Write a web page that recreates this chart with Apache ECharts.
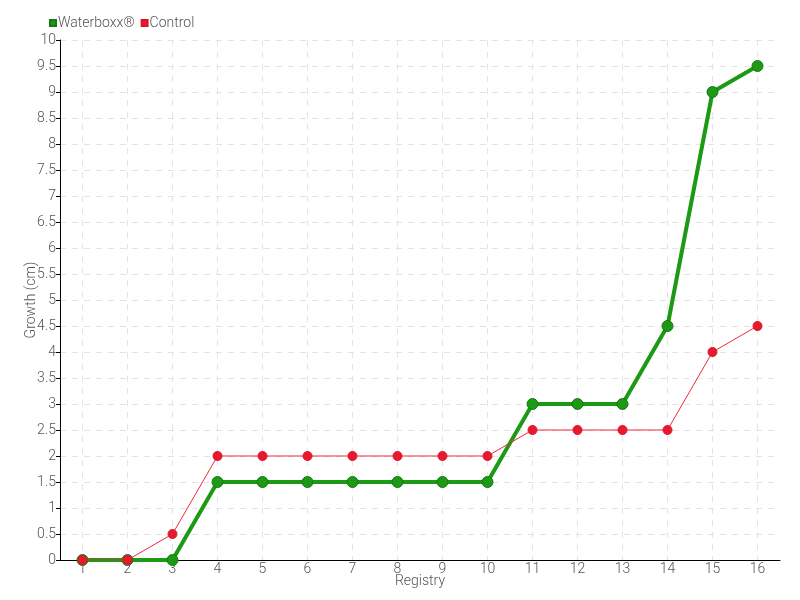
<!DOCTYPE html>
<html>
<head>
<meta charset="utf-8">
<script src="https://cdn.jsdelivr.net/npm/echarts@6/dist/echarts.min.js"></script>
<style>
  html, body { margin: 0; padding: 0; background: #fff; }
  #chart { width: 800px; height: 600px; }
</style>
</head>
<body>
<div id="chart"></div>
<script>
// registry numbers on the x axis
const registry = ['1', '2', '3', '4', '5', '6', '7', '8', '9', '10', '11', '12', '13', '14', '15', '16'];
// growth in cm
const waterboxx = [0, 0, 0, 1.5, 1.5, 1.5, 1.5, 1.5, 1.5, 1.5, 3, 3, 3, 4.5, 9, 9.5];
const control = [0, 0, 0.5, 2, 2, 2, 2, 2, 2, 2, 2.5, 2.5, 2.5, 2.5, 4, 4.5];

// half-step slots so the vertical grid lines fall on the category centres
const gridSlots = [''];
registry.forEach(r => { gridSlots.push(r); gridSlots.push(''); });

const font = 'Roboto, sans-serif';
const textColor = '#555';
const gridLine = { color: '#e4e4e4', type: [6, 6], width: 1 };

const chart = echarts.init(document.getElementById('chart'));
chart.setOption({
  animation: false,
  textStyle: { fontFamily: font, fontWeight: 300 },
  legend: {
    left: 44,
    top: 11,
    itemWidth: 6,
    itemHeight: 6,
    itemGap: 6,
    icon: 'rect',
    textStyle: { color: textColor, fontSize: 14, fontFamily: font, fontWeight: 300, padding: [0, 0, 0, -3] },
    data: ['Waterboxx®', 'Control']
  },
  grid: { left: 60, right: 20, top: 40, bottom: 40 },
  xAxis: [
    {
      type: 'category',
      data: registry,
      name: 'Registry',
      nameLocation: 'middle',
      nameGap: 14,
      nameMoveOverlap: false,
      nameTextStyle: { color: textColor, fontSize: 14, fontFamily: font, fontWeight: 300 },
      axisLine: { lineStyle: { color: '#000' } },
      axisTick: { alignWithLabel: true, length: 3, lineStyle: { color: '#555' } },
      axisLabel: { color: textColor, fontSize: 14, margin: 2, fontFamily: font, fontWeight: 300 },
      splitLine: { show: false }
    },
    {
      type: 'category',
      data: gridSlots,
      boundaryGap: false,
      position: 'bottom',
      axisLine: { show: false },
      axisTick: { show: false },
      axisLabel: { show: false },
      splitLine: { show: true, interval: (i) => i % 2 === 1, lineStyle: gridLine }
    }
  ],
  yAxis: {
    type: 'value',
    min: 0,
    max: 10,
    interval: 0.5,
    name: 'Growth (cm)',
    nameLocation: 'middle',
    nameGap: 22,
    nameMoveOverlap: false,
    nameTextStyle: { color: textColor, fontSize: 14, fontFamily: font, fontWeight: 300 },
    axisLine: { show: true, lineStyle: { color: '#000' } },
    axisTick: { show: true, length: 4, lineStyle: { color: '#000' } },
    axisLabel: { color: textColor, fontSize: 14, margin: 4, fontFamily: font, fontWeight: 300 },
    splitLine: { lineStyle: gridLine }
  },
  series: [
    {
      name: 'Waterboxx®',
      type: 'line',
      data: waterboxx,
      z: 2,
      symbol: 'circle',
      symbolSize: 11,
      color: '#1c9a15',
      lineStyle: { width: 4, color: '#1c9a15' },
      itemStyle: { color: '#1c9a15', borderColor: '#177a12', borderWidth: 1 }
    },
    {
      name: 'Control',
      type: 'line',
      data: control,
      z: 3,
      symbol: 'circle',
      symbolSize: 9,
      color: '#e8192c',
      lineStyle: { width: 1, color: '#ee2a3a' },
      itemStyle: { color: '#e8192c', borderColor: '#d9162a', borderWidth: 1 }
    }
  ]
});
</script>
</body>
</html>
